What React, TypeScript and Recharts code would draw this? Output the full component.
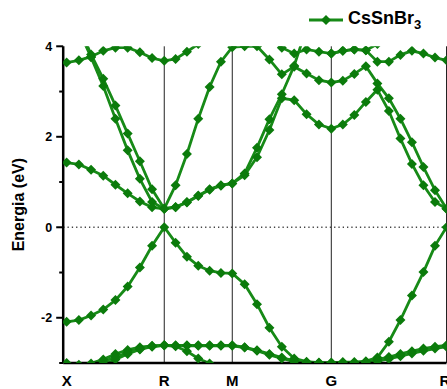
import { LineChart, Line, XAxis, YAxis, ReferenceLine } from "recharts";

// high-symmetry path (k distance) and the number of steps in each leg
const kLabels = ["X", "R", "M", "G", "R"];
const kNodes = [0, 0.7072, 1.1999, 1.9174, 2.752];
const steps = [8, 6, 8, 10];

// band energies (eV) along X-R | R-M | M-G | G-R, 33 points each
const top = [3.64, 3.69, 3.77, 3.9, 3.97, 3.97, 3.87, 3.74, 3.68, 3.72, 3.88, 4.05, 4.25, 4.4, 4.5, 4.45, 4.35, 4.2, 3.97, 3.84, 3.93, 3.88, 3.84, 3.9, 3.93, 3.91, 3.66, 3.66, 3.81, 3.9, 3.84, 3.75, 3.69];
const ta = [null, null, null, null, null, null, null, null, null, null, null, null, null, null, null, null, null, null, null, null, null, null, 3.84, 3.9, 3.93, 3.91, 4.05, 4.3, null, null, null, null, null];
const c3 = [null, 4.45, 3.82, 3.28, 2.69, 2.07, 1.46, 0.84, 0.41, 0.93, 1.62, 2.4, 3.1, 3.66, 3.98, 4.0, 4.0, 3.71, 3.38, 3.55, 3.4, 3.25, 3.2, 3.24, 3.39, 3.56, 3.18, 2.85, 2.4, 1.88, 1.33, 0.82, 0.41];
const c2 = [null, 4.35, 3.76, 3.12, 2.4, 1.7, 1.07, 0.56, 0.41, 0.45, 0.56, 0.7, 0.84, 0.93, 0.97, 1.19, 1.76, 2.39, 2.94, 3.57, 4.4, null, null, null, null, null, null, null, null, null, null, null, null];
const c1 = [1.43, 1.39, 1.27, 1.14, 0.94, 0.75, 0.57, 0.44, 0.41, 0.44, 0.55, 0.69, 0.83, 0.92, 0.97, 1.15, 1.55, 2.15, 2.85, 2.81, 2.5, 2.27, 2.18, 2.27, 2.48, 2.77, 3.04, 2.57, 1.96, 1.4, 0.93, 0.56, 0.41];
const v1 = [-2.09, -2.05, -1.95, -1.82, -1.61, -1.31, -0.89, -0.41, 0, -0.34, -0.65, -0.85, -0.96, -1.01, -1.02, -1.26, -1.7, -2.22, -2.64, -2.9, -2.97, -2.99, -2.99, -2.98, -2.98, -2.96, -2.88, -2.53, -2.05, -1.51, -0.99, -0.41, 0];
const v2 = [-3.0, -3.04, -3.01, -2.92, -2.8, -2.71, -2.65, -2.62, -2.61, -2.61, -2.61, -2.61, -2.61, -2.61, -2.61, -2.65, -2.72, -2.8, -2.88, -2.95, -2.99, -3.0, -3.0, -3.0, -3.0, -2.98, -2.92, -2.87, -2.8, -2.74, -2.68, -2.64, -2.61];
const v3 = [-3.25, -3.16, -3.06, -2.97, -2.87, -2.77, -2.69, -2.63, -2.61, -2.62, -2.62, -2.62, -2.62, -2.62, -2.62, -2.66, -2.73, -2.82, -2.9, -2.97, -3.0, -3.01, -3.01, -3.01, -3.02, -3.0, -2.96, -2.91, -2.85, -2.79, -2.73, -2.68, -2.64];
const v4 = [null, -3.45, -3.22, -3.05, -2.92, -2.8, -2.7, -2.64, -2.61, -2.63, -2.74, -2.9, -3.01, -3.2, null, null, null, null, null, null, null, null, null, null, null, null, null, null, null, null, null, null, null];

const bands: Record<string, (number | null)[]> = { top, ta, c3, c2, c1, v1, v2, v3, v4 };

const kPath: number[] = [kNodes[0]];
steps.forEach((n, s) => {
  for (let i = 1; i <= n; i++) kPath.push(kNodes[s] + ((kNodes[s + 1] - kNodes[s]) * i) / n);
});

const data = kPath.map((k, i) => {
  const row: Record<string, number | null> = { k };
  Object.keys(bands).forEach((b) => (row[b] = bands[b][i]));
  return row;
});

const GREEN = "#178a17";
const DOT = "#0b7b0b";
const FONT = "'Liberation Sans', Arial, sans-serif";

const Diamond = (props: any) => {
  const { cx, cy, index } = props;
  if (typeof cx !== "number" || typeof cy !== "number" || isNaN(cy) || props.value == null)
    return <g key={index} />;
  const r = 5;
  return (
    <path
      key={index}
      d={`M${cx},${cy - r}L${cx + r},${cy}L${cx},${cy + r}L${cx - r},${cy}Z`}
      fill={DOT}
    />
  );
};

const YTick = (props: any) => {
  const { x, y, payload } = props;
  const v = payload.value;
  const major = v % 2 === 0;
  return (
    <g>
      <line x1={x - (major ? 7 : 4)} x2={x} y1={y} y2={y} stroke="#000" strokeWidth={2} />
      {major && v !== -3 && (
        <text x={x - 11} y={y + 4.5} textAnchor="end" fontSize={12.5} fontWeight="bold" fontFamily={FONT} fill="#000">
          {v}
        </text>
      )}
    </g>
  );
};

export default function App() {
  return (
    <div style={{ position: "absolute", left: 0, top: 0, width: 447, height: 389, overflow: "hidden", background: "#fff" }}>
      <div
        style={{ position: "absolute", top: 8, left: 309, display: "flex", alignItems: "center", fontFamily: FONT, zIndex: 2 }}
      >
        <svg width={36} height={12}>
          <line x1={0} x2={34} y1={6} y2={6} stroke={GREEN} strokeWidth={2.8} />
          <path d="M17,1L22,6L17,11L12,6Z" fill={DOT} />
        </svg>
        <span style={{ fontSize: 18, fontWeight: "bold", marginLeft: 3, color: "#000" }}>
          CsSnBr<sub style={{ fontSize: 13 }}>3</sub>
        </span>
      </div>
      <LineChart width={450} height={389} data={data} margin={{ top: 46.3, right: 3.5, left: 0, bottom: 0 }}>
        <XAxis
          dataKey="k"
          type="number"
          domain={[-0.025, kNodes[4]]}
          ticks={kNodes}
          tickFormatter={(v: number) => kLabels[kNodes.indexOf(v)]}
          allowDataOverflow
          height={26}
          tickLine={false}
          tickSize={0}
          tickMargin={12}
          axisLine={{ stroke: "#000", strokeWidth: 2.5 }}
          tick={{ fontSize: 15, fontWeight: "bold", fill: "#000", fontFamily: FONT }}
        />
        <YAxis
          type="number"
          domain={[-3, 4]}
          ticks={[-3, -2, -1, 0, 1, 2, 3, 4]}
          allowDataOverflow
          width={63.2}
          tickLine={false}
          tickSize={0}
          tickMargin={0}
          axisLine={{ stroke: "#000", strokeWidth: 2.5 }}
          tick={<YTick />}
          label={{
            value: "Energia (eV)",
            angle: -90,
            position: "insideLeft",
            offset: 18,
            style: { textAnchor: "middle", fontSize: 16, fontWeight: "bold", fill: "#000", fontFamily: FONT },
          }}
        />
        {kNodes.slice(1).map((k, i) => (
          <ReferenceLine key={i} x={k} stroke="#222" strokeWidth={1} />
        ))}
        <ReferenceLine y={0} stroke="#444" strokeWidth={1.3} strokeDasharray="1.3 3" />
        {Object.keys(bands).map((b) => (
          <Line
            key={b}
            dataKey={b}
            type="linear"
            stroke={GREEN}
            strokeWidth={2.8}
            dot={<Diamond />}
            activeDot={false}
            legendType="none"
            isAnimationActive={false}
          />
        ))}
      </LineChart>
    </div>
  );
}
